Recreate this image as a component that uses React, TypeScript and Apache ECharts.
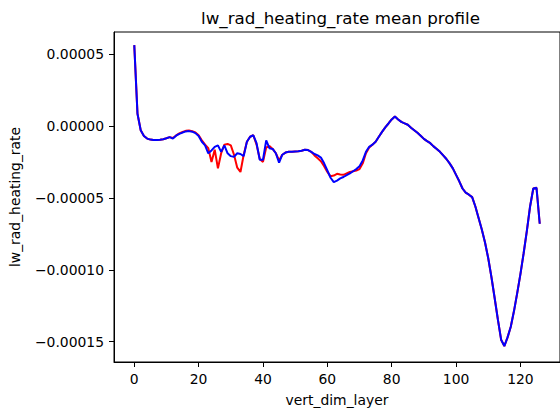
import React, { useEffect, useRef } from "react";
import * as echarts from "echarts";

const TITLE = "lw_rad_heating_rate mean profile";
const X_NAME = "vert_dim_layer";
const Y_NAME = "lw_rad_heating_rate";
const X_TICKS = [0, 20, 40, 60, 80, 100, 120];
const Y_TICKS = [0.00005, 0, -0.00005, -0.0001, -0.00015];

// blue series (drawn on top)
const blueVals = [
  5.62e-5, 8.5e-6, -3.0e-6, -7.0e-6, -8.8e-6, -9.5e-6, -9.8e-6, -9.8e-6, -9.6e-6, -9.2e-6,
  -8.6e-6, -7.8e-6, -8.8e-6, -6.8e-6, -5.5e-6, -4.6e-6, -3.8e-6, -3.6e-6, -4.0e-6, -5.0e-6,
  -7.0e-6, -1.1e-5, -1.35e-5, -1.9e-5, -1.7e-5, -1.45e-5, -1.35e-5, -1.8e-5, -1.35e-5, -1.9e-5,
  -2.1e-5, -2.15e-5, -1.9e-5, -1.95e-5, -2.1e-5, -1.1e-5, -7.5e-6, -6.5e-6, -1.2e-5, -2.35e-5,
  -2.35e-5, -1.0e-5, -1.55e-5, -1.6e-5, -1.9e-5, -2.55e-5, -2.0e-5, -1.85e-5, -1.8e-5, -1.8e-5,
  -1.78e-5, -1.76e-5, -1.72e-5, -1.65e-5, -1.68e-5, -1.8e-5, -1.95e-5, -2.05e-5, -2.2e-5, -2.6e-5,
  -3.1e-5, -3.6e-5, -3.9e-5, -3.8e-5, -3.65e-5, -3.55e-5, -3.42e-5, -3.3e-5, -3.15e-5, -3.0e-5,
  -2.8e-5, -2.4e-5, -1.8e-5, -1.45e-5, -1.3e-5, -1.1e-5, -7.5e-6, -4.1e-6, -1.0e-6, 1.7e-6,
  4.5e-6, 6.5e-6, 4.5e-6, 2.8e-6, 1.8e-6, 0.8e-6, -1.2e-6, -3.0e-6, -4.8e-6, -6.8e-6,
  -9.0e-6, -1.06e-5, -1.2e-5, -1.42e-5, -1.6e-5, -1.8e-5, -2.05e-5, -2.3e-5, -2.6e-5, -2.95e-5,
  -3.4e-5, -3.85e-5, -4.35e-5, -4.64e-5, -4.78e-5, -4.95e-5, -5.6e-5, -6.4e-5, -7.2e-5, -8.1e-5,
  -9.2e-5, -1.052e-4, -1.198e-4, -1.347e-4, -1.486e-4, -1.53e-4, -1.47e-4, -1.396e-4, -1.287e-4, -1.162e-4,
  -1.03e-4, -8.85e-5, -7.29e-5, -5.6e-5, -4.35e-5, -4.3e-5, -6.8e-5,
];

// red series (drawn below)
const redVals = [
  5.62e-5, 8.5e-6, -3.0e-6, -7.0e-6, -8.8e-6, -9.5e-6, -9.8e-6, -9.8e-6, -9.6e-6, -9.2e-6,
  -8.6e-6, -7.8e-6, -8.4e-6, -6.6e-6, -5.2e-6, -4.2e-6, -3.4e-6, -3.2e-6, -3.6e-6, -4.5e-6,
  -6.5e-6, -1.0e-5, -1.3e-5, -1.55e-5, -2.5e-5, -1.65e-5, -2.95e-5, -1.9e-5, -1.3e-5, -1.25e-5,
  -1.35e-5, -2.0e-5, -2.9e-5, -3.2e-5, -2.0e-5, -1.1e-5, -7.5e-6, -6.5e-6, -1.3e-5, -2.3e-5,
  -2.5e-5, -1.5e-5, -1.4e-5, -1.6e-5, -1.9e-5, -2.4e-5, -2.0e-5, -1.85e-5, -1.8e-5, -1.8e-5,
  -1.78e-5, -1.76e-5, -1.72e-5, -1.65e-5, -1.68e-5, -1.8e-5, -2.05e-5, -2.25e-5, -2.45e-5, -2.8e-5,
  -3.2e-5, -3.5e-5, -3.45e-5, -3.33e-5, -3.38e-5, -3.4e-5, -3.3e-5, -3.2e-5, -3.15e-5, -3.1e-5,
  -3.0e-5, -2.6e-5, -1.9e-5, -1.5e-5, -1.3e-5, -1.1e-5, -7.5e-6, -4.1e-6, -1.0e-6, 1.7e-6,
  4.5e-6, 6.5e-6, 4.5e-6, 2.8e-6, 1.8e-6, 0.8e-6, -1.2e-6, -3.0e-6, -4.8e-6, -6.8e-6,
  -9.0e-6, -1.06e-5, -1.2e-5, -1.42e-5, -1.6e-5, -1.8e-5, -2.05e-5, -2.3e-5, -2.6e-5, -2.95e-5,
  -3.4e-5, -3.85e-5, -4.35e-5, -4.64e-5, -4.78e-5, -4.95e-5, -5.6e-5, -6.4e-5, -7.2e-5, -8.1e-5,
  -9.2e-5, -1.052e-4, -1.198e-4, -1.347e-4, -1.486e-4, -1.53e-4, -1.47e-4, -1.396e-4, -1.287e-4, -1.162e-4,
  -1.03e-4, -8.85e-5, -7.29e-5, -5.6e-5, -4.35e-5, -4.3e-5, -6.8e-5,
];

const FONT = "DejaVu Sans";
const TICK_FS = 13.9;

function fmtY(v: number): string {
  if (Math.abs(v) < 1e-12) return "0.00000";
  return (v < 0 ? "\u2212" : "") + Math.abs(v).toFixed(5);
}

export default function App() {
  const ref = useRef<HTMLDivElement>(null);
  useEffect(() => {
    if (!ref.current) return;
    const chart = echarts.init(ref.current, undefined, { renderer: "svg" });
    const axisCommon = {
      axisLine: { show: true, onZero: false, lineStyle: { color: "#000", width: 1 } },
      splitLine: { show: false },
      nameTextStyle: { fontFamily: FONT, fontSize: TICK_FS, color: "#000" },
    };
    chart.setOption({
      animation: false,
      backgroundColor: "#fff",
      graphic: [
        {
          type: "text",
          x: 340.5,
          y: 18,
          style: {
            text: TITLE,
            align: "center",
            verticalAlign: "middle",
            fontFamily: FONT,
            fontSize: 16.7,
            fill: "#000",
          },
        },
      ],
      grid: {
        left: 114,
        right: -7,
        top: 32,
        bottom: 53,
        show: true,
        borderColor: "#000",
        borderWidth: 1,
        backgroundColor: "transparent",
      },
      xAxis: {
        type: "value",
        min: -6.3,
        max: 132.3,
        name: X_NAME,
        nameLocation: "middle",
        nameGap: 31,
        ...axisCommon,
        axisTick: { show: true, length: 5, customValues: X_TICKS, lineStyle: { color: "#000" } },
        axisLabel: {
          customValues: X_TICKS,
          margin: 10,
          fontFamily: FONT,
          fontSize: TICK_FS,
          color: "#000",
          formatter: (v: number) => String(Math.round(v)),
        },
      },
      yAxis: {
        type: "value",
        min: -1.641e-4,
        max: 6.53e-5,
        name: Y_NAME,
        nameLocation: "middle",
        nameGap: 92,
        ...axisCommon,
        axisTick: { show: true, length: 5, customValues: Y_TICKS, lineStyle: { color: "#000" } },
        axisLabel: {
          customValues: Y_TICKS,
          margin: 10,
          fontFamily: FONT,
          fontSize: TICK_FS,
          color: "#000",
          formatter: fmtY,
        },
      },
      series: [
        {
          type: "line",
          data: redVals.map((v, i) => [i, v]),
          symbol: "none",
          lineStyle: { color: "#ff0000", width: 2 },
          itemStyle: { color: "#ff0000" },
        },
        {
          type: "line",
          data: blueVals.map((v, i) => [i, v]),
          symbol: "none",
          lineStyle: { color: "#0000ff", width: 2 },
          itemStyle: { color: "#0000ff" },
        },
      ],
    });
    return () => chart.dispose();
  }, []);
  return (
    <div
      ref={ref}
      style={{ position: "fixed", left: 0, top: 0, width: 560, height: 415 }}
    />
  );
}
